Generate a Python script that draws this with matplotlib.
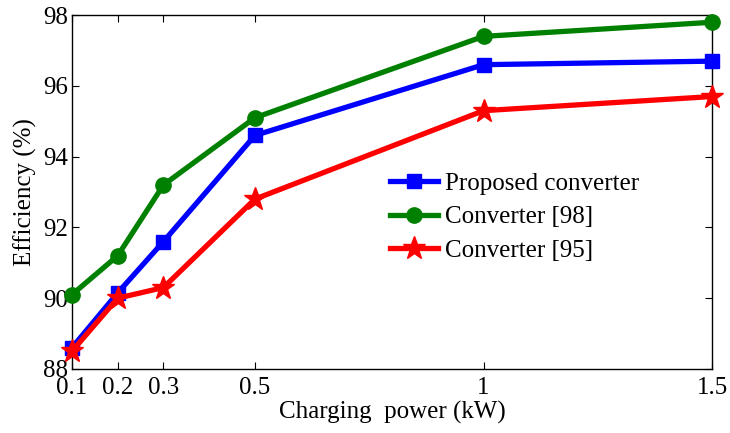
import matplotlib.pyplot as plt
import numpy as np

plt.rcParams['font.family'] = ['Liberation Serif', 'DejaVu Serif']
plt.rcParams['mathtext.fontset'] = 'stix'

power = [0.1, 0.2, 0.3, 0.5, 1.0, 1.5]
eff_proposed = [88.6, 90.15, 91.6, 94.6, 96.6, 96.7]
eff_98 = [90.1, 91.2, 93.2, 95.1, 97.4, 97.8]
eff_95 = [88.5, 90.0, 90.3, 92.8, 95.3, 95.7]
xtick_labels = ['0.1', '0.2', '0.3', '0.5', '1', '1.5']

fig = plt.figure(figsize=(7.3, 4.33), dpi=100)
ax = fig.add_axes([0.0986, 0.148, 0.877, 0.817])

ax.plot(power, eff_proposed, color='blue', lw=3.8, marker='s', ms=10, label='Proposed converter', clip_on=False, zorder=3)
ax.plot(power, eff_98, color='green', lw=3.8, marker='o', ms=11, label='Converter [98]', clip_on=False, zorder=3)
ax.plot(power, eff_95, color='red', lw=3.8, marker='*', ms=17, label='Converter [95]', clip_on=False, zorder=4)

ax.set_xlim(0.1, 1.5)
ax.set_ylim(88, 98)
ax.set_xticks(power)
ax.set_xticklabels(xtick_labels)
ax.set_yticks([88, 90, 92, 94, 96, 98])
ax.tick_params(direction='in', top=True, right=True, labelsize=18, length=5)
ax.tick_params(axis='x', pad=6)
ax.tick_params(axis='y', pad=3)
ax.set_xlabel('Charging  power (kW)', fontsize=18, labelpad=1)
ax.set_ylabel('Efficiency (%)', fontsize=18, labelpad=4)
for s in ax.spines.values():
    s.set_linewidth(1.0)

ax.legend(loc='upper left', bbox_to_anchor=(0.497, 0.556), frameon=False, fontsize=18,
          handlelength=1.9, handletextpad=0.3, labelspacing=0.45, borderpad=0.0, borderaxespad=0.0)

fig.savefig('out.png', dpi=100)
